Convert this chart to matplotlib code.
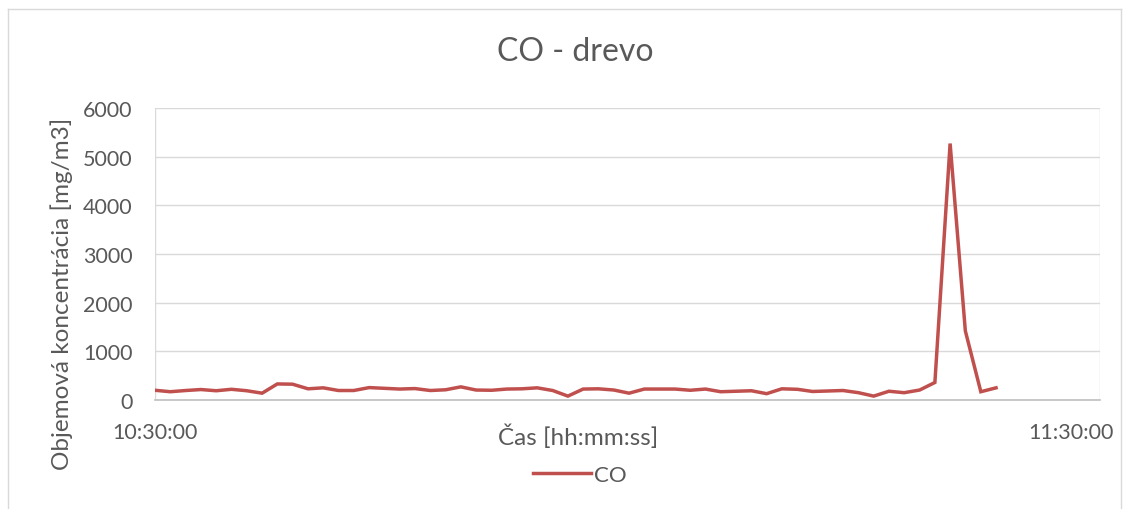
import matplotlib
matplotlib.use("Agg")
import matplotlib.pyplot as plt
import matplotlib.dates as mdates
from matplotlib.transforms import ScaledTranslation
from matplotlib.lines import Line2D
import pandas as pd

# Measurement timestamps
times = [
    "10:30:00", "10:30:58", "10:31:57", "10:32:55", "10:33:53", "10:34:51",
    "10:35:50", "10:36:48", "10:37:46", "10:38:44", "10:39:43", "10:40:41",
    "10:41:39", "10:42:37", "10:43:36", "10:44:34", "10:45:32", "10:46:30",
    "10:47:29", "10:48:27", "10:49:25", "10:50:23", "10:51:22", "10:52:20",
    "10:53:18", "10:54:16", "10:55:15", "10:56:13", "10:57:11", "10:58:09",
    "10:59:08", "11:00:06", "11:01:04", "11:02:02", "11:03:01", "11:03:59",
    "11:04:57", "11:05:55", "11:06:54", "11:07:52", "11:08:50", "11:09:48",
    "11:10:47", "11:11:45", "11:12:43", "11:13:41", "11:14:40", "11:15:38",
    "11:16:36", "11:17:34", "11:18:33", "11:19:31", "11:20:29", "11:21:27",
    "11:22:26", "11:23:24",
]

# CO volume concentration [mg/m3]
co = [
    200, 170, 195, 215, 190, 220, 190, 140, 330, 325, 230, 250,
    195, 195, 255, 240, 225, 235, 195, 210, 270, 205, 200, 225,
    230, 250, 195, 80, 225, 230, 205, 140, 225, 225, 225, 200,
    225, 170, 180, 190, 130, 230, 220, 175, 185, 195, 150, 80,
    180, 150, 205, 360, 5270, 1420, 170, 250,
]

series_name = "CO"
title = "CO - drevo"
x_label = "Čas [hh:mm:ss]"
y_label = "Objemová koncentrácia [mg/m3]"
x_range = ("10:30:00", "11:30:00")
y_ticks = [0, 1000, 2000, 3000, 4000, 5000, 6000]

FONT = ["Lato", "DejaVu Sans"]
TEXT = "#595959"
GRID = "#d9d9d9"
RED = "#c0504d"
FS_TICK = 15.5
FS_AXIS = 17.5

plt.rcParams["font.family"] = FONT

day = "2000-01-01 "
t = pd.to_datetime([day + s for s in times])
x0, x1 = (pd.Timestamp(day + s) for s in x_range)

W, H = 1129, 510
fig = plt.figure(figsize=(W / 100, H / 100), dpi=100)
ax = fig.add_axes([155 / W, 1 - 401 / H, (1100 - 155) / W, (401 - 109) / H])

ax.plot(t, co, color=RED, lw=2.5, solid_joinstyle="miter", zorder=3)

ax.set_xlim(x0, x1)
ax.set_ylim(0, 6000)
ax.set_yticks(y_ticks)
ax.set_xticks([x0, x1])
ax.xaxis.set_major_formatter(mdates.DateFormatter("%H:%M:%S"))

ax.grid(True, color=GRID, lw=1.0, zorder=0)
for side in ("top", "right", "left"):
    ax.spines[side].set_visible(False)
ax.spines["bottom"].set_color("#bfbfbf")
ax.spines["bottom"].set_linewidth(1.2)
ax.spines["bottom"].set_zorder(2)

ax.tick_params(axis="both", length=0, labelsize=FS_TICK, labelcolor=TEXT)
ax.tick_params(axis="y", pad=16)
ax.tick_params(axis="x", pad=16)

# keep the last time label inside the chart area
last = ax.get_xticklabels()[-1]
last.set_transform(last.get_transform() + ScaledTranslation(-0.29, 0, fig.dpi_scale_trans))

fig.text(575 / W, 1 - 52 / H, title, ha="center", va="center", fontsize=23, color=TEXT)
fig.text(578 / W, 1 - 437 / H, x_label, ha="center", va="center", fontsize=FS_AXIS, color=TEXT)
fig.text(62 / W, 1 - 294 / H, y_label, ha="center", va="center", rotation=90,
         fontsize=FS_AXIS, color=TEXT)

handle = Line2D([], [], color=RED, lw=2.5)
fig.legend([handle], [series_name], loc="center", bbox_to_anchor=(580 / W, 1 - 476 / H),
           frameon=False, fontsize=16, handlelength=2.6, handletextpad=0.15,
           labelcolor=TEXT)

# chart area border
border = dict(color="#d9d9d9", lw=1.0, transform=fig.transFigure)
fig.add_artist(Line2D([8 / W, 1121 / W], [1 - 10 / H, 1 - 10 / H], **border))
fig.add_artist(Line2D([8 / W, 8 / W], [1 - 10 / H, 0], **border))
fig.add_artist(Line2D([1121 / W, 1121 / W], [1 - 10 / H, 0], **border))

fig.savefig("out.png", dpi=100, facecolor="white")
